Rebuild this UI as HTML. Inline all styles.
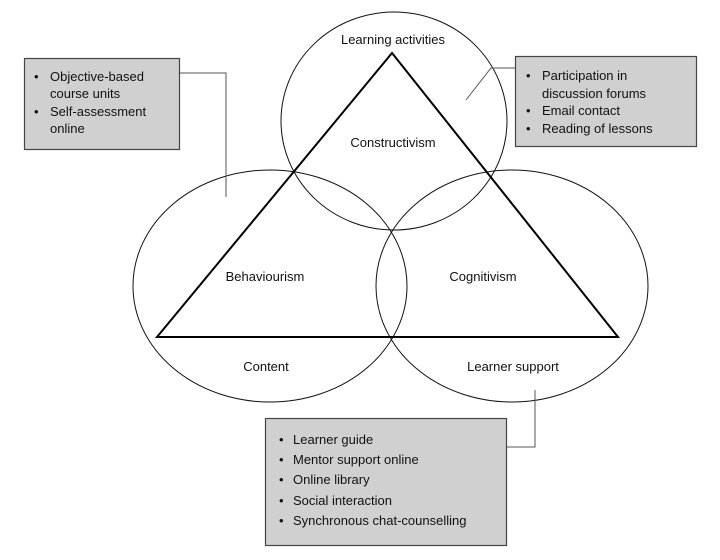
<!DOCTYPE html>
<html><head><style>
body{margin:0;background:#fff;}
svg text{font-family:"Liberation Sans",Arial,sans-serif;font-size:13px;fill:#111;}
</style></head><body>
<svg width="720" height="555" viewBox="0 0 720 555" xmlns="http://www.w3.org/2000/svg">
<g fill="none" stroke="#111" stroke-width="1">
<ellipse cx="394" cy="121" rx="113" ry="109"/>
<ellipse cx="270" cy="286" rx="137" ry="116"/>
<ellipse cx="512" cy="286" rx="136" ry="116"/>
</g>
<polygon points="392,53 157,337 618,337" fill="none" stroke="#000" stroke-width="2"/>
<g fill="none" stroke="#555" stroke-width="1">
<polyline points="179,73 226,73 226,197"/>
<polyline points="515,68 491,68 466,100"/>
<polyline points="506,447 535,447 535,390"/>
</g>
<g fill="#d0d0d0" stroke="#444" stroke-width="1.2">
<rect x="24.5" y="58.5" width="155" height="91"/>
<rect x="515.5" y="56.5" width="181" height="90"/>
<rect x="265.5" y="418.5" width="241" height="127"/>
</g>
<g text-anchor="middle">
<text x="393" y="44">Learning activities</text>
<text x="393" y="147">Constructivism</text>
<text x="265" y="281">Behaviourism</text>
<text x="483" y="281">Cognitivism</text>
<text x="266" y="371">Content</text>
<text x="513" y="371">Learner support</text>
</g>
<text x="34" y="81">•</text><text x="50" y="81">Objective-based</text>
<text x="50" y="98">course units</text>
<text x="34" y="116">•</text><text x="50" y="116">Self-assessment</text>
<text x="50" y="133">online</text>
<text x="526" y="80">•</text><text x="542" y="80">Participation in</text>
<text x="542" y="98">discussion forums</text>
<text x="526" y="115">•</text><text x="542" y="115">Email contact</text>
<text x="526" y="133">•</text><text x="542" y="133">Reading of lessons</text>
<text x="279" y="444">•</text><text x="293" y="444">Learner guide</text>
<text x="279" y="464">•</text><text x="293" y="464">Mentor support online</text>
<text x="279" y="484">•</text><text x="293" y="484">Online library</text>
<text x="279" y="505">•</text><text x="293" y="505">Social interaction</text>
<text x="279" y="525">•</text><text x="293" y="525">Synchronous chat-counselling</text>
</svg>
</body></html>
